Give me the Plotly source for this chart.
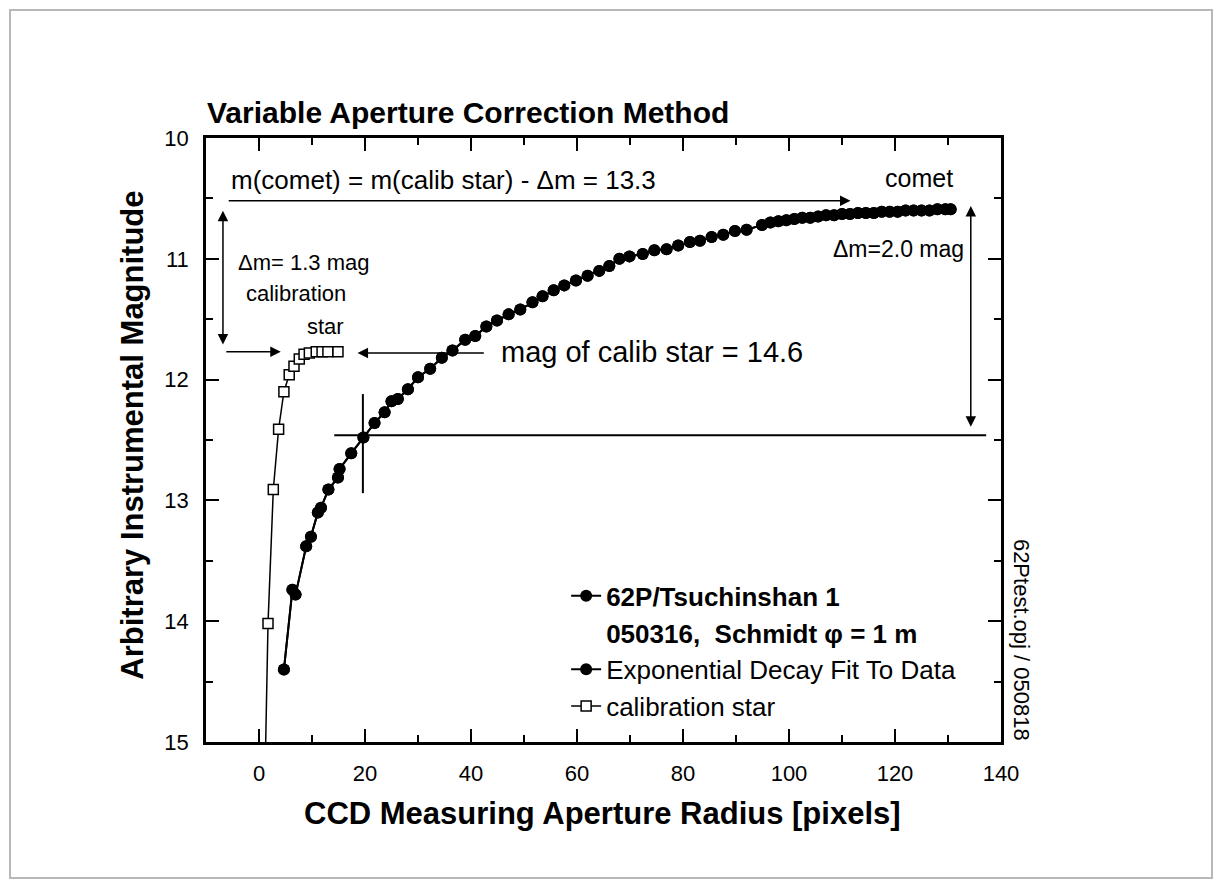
import plotly.graph_objects as go

# ---- data ----
comet_x = [4.7, 6.3, 6.9, 8.9, 9.8, 11.1, 11.7, 13.1, 14.9, 15.2, 17.4, 19.7, 21.8, 23.7,
           25.0, 26.2, 28.1, 30.0, 32.3, 34.5, 36.5, 38.9, 40.8, 42.9, 44.9, 47.1, 49.3,
           51.6, 53.5, 55.6, 57.6, 59.8, 62.0, 64.2, 66.1, 68.0, 69.9, 72.4, 74.6, 76.9,
           79.1, 81.3, 83.2, 85.4, 87.6, 89.8, 92.0, 94.9, 96.5, 98.0, 99.5, 101.0, 102.5,
           104.0, 105.5, 107.0, 108.5, 110.0, 111.5, 113.0, 114.5, 116.0, 117.5, 119.0,
           120.5, 122.0, 123.5, 125.0, 126.5, 128.0, 129.5, 130.5]
comet_mag = [14.40, 13.74, 13.78, 13.38, 13.30, 13.10, 13.06, 12.91, 12.81, 12.74, 12.61,
             12.48, 12.36, 12.27, 12.18, 12.16, 12.08, 11.98, 11.91, 11.82, 11.76, 11.67,
             11.64, 11.56, 11.51, 11.46, 11.42, 11.36, 11.31, 11.26, 11.22, 11.18, 11.14,
             11.10, 11.06, 11.00, 10.98, 10.96, 10.93, 10.92, 10.89, 10.86, 10.85, 10.82,
             10.80, 10.77, 10.76, 10.72, 10.70, 10.69, 10.68, 10.67, 10.66, 10.66, 10.65,
             10.64, 10.64, 10.63, 10.63, 10.62, 10.62, 10.62, 10.61, 10.61, 10.61, 10.60,
             10.60, 10.60, 10.60, 10.59, 10.59, 10.59]
star_x = [1.0, 1.7, 2.7, 3.7, 4.7, 5.7, 6.6, 7.6, 8.5, 9.5, 10.8, 11.9, 13.0, 14.9]
star_mag = [15.6, 14.02, 12.91, 12.41, 12.10, 11.96, 11.89, 11.83, 11.79, 11.78, 11.77,
            11.77, 11.77, 11.77]

x_ticks = [0, 20, 40, 60, 80, 100, 120, 140]
y_ticks = [10, 11, 12, 13, 14, 15]

FONT = "Liberation Sans, Arial, sans-serif"

fig = go.Figure()
fig.add_trace(go.Scatter(x=comet_x, y=comet_mag, mode="lines+markers",
                         name="<b>62P/Tsuchinshan 1</b>", legendrank=1,
                         line=dict(color="black", width=2),
                         marker=dict(symbol="circle", size=12, color="black")))
fig.add_trace(go.Scatter(x=[None], y=[None], mode="markers", legendrank=2,
                         name="<b>050316,&nbsp; Schmidt φ = 1 m</b>",
                         marker=dict(opacity=0, color="white")))
fig.add_trace(go.Scatter(x=comet_x, y=comet_mag, mode="lines+markers",
                         name="Exponential Decay Fit To Data", legendrank=3,
                         line=dict(color="black", width=2),
                         marker=dict(symbol="circle", size=12, color="black")))
fig.add_trace(go.Scatter(x=star_x, y=star_mag, mode="lines+markers",
                         name="calibration star", legendrank=4,
                         line=dict(color="black", width=1.5),
                         marker=dict(symbol="square", size=10, color="white",
                                     line=dict(color="black", width=1.5))))

axis_common = dict(ticks="inside", ticklen=13, tickwidth=2, tickcolor="black",
                   showline=True, linewidth=2.5, linecolor="black", mirror="allticks",
                   showgrid=False, zeroline=False,
                   tickfont=dict(family=FONT, size=22, color="black"))

fig.update_xaxes(range=[-10, 140], tickvals=x_ticks, ticklabelstandoff=10,
                 minor=dict(dtick=10, tick0=0, ticks="inside", ticklen=7, tickwidth=2,
                            tickcolor="black", showgrid=False),
                 **axis_common)
fig.update_yaxes(range=[15, 10], tickvals=y_ticks, ticklabelstandoff=10,
                 minor=dict(dtick=0.5, tick0=10, ticks="inside", ticklen=7, tickwidth=2,
                            tickcolor="black", showgrid=False),
                 **axis_common)

ann = []
def text(x, y, s, size, xanchor="center", yanchor="middle", xref="x", yref="y",
         angle=0, bold=False):
    ann.append(dict(x=x, y=y, xref=xref, yref=yref, text=(f"<b>{s}</b>" if bold else s),
                    showarrow=False, xanchor=xanchor, yanchor=yanchor, textangle=angle,
                    font=dict(family=FONT, size=size, color="black")))

def arrow(x0, y0, x1, y1, both=False):
    ann.append(dict(x=x1, y=y1, ax=x0, ay=y0, xref="x", yref="y", axref="x", ayref="y",
                    text="", showarrow=True, arrowhead=2, arrowsize=1.4, arrowwidth=1.5,
                    arrowcolor="black", arrowside="end+start" if both else "end",
                    standoff=0, startstandoff=0))

text(-0.001, 1.0414, "Variable Aperture Correction Method", 30, xanchor="left",
     xref="paper", yref="paper", bold=True)
text(0.4985, -0.1185, "CCD Measuring Aperture Radius [pixels]", 31, xref="paper",
     yref="paper", bold=True)
text(-0.0925, 0.508, "Arbitrary Instrumental Magnitude", 31, xref="paper", yref="paper",
     angle=-90, bold=True)
text(1.0252, 0.169, "62Ptest.opj / 050818", 22, xref="paper", yref="paper", angle=90)

text(-5.7, 10.35, "m(comet) = m(calib star) - Δm = 13.3", 26, xanchor="left")
text(124.5, 10.33, "comet", 25)
text(-4.4, 11.03, "Δm= 1.3 mag", 22, xanchor="left")
text(6.96, 11.285, "calibration", 22)
text(12.5, 11.56, "star", 22)
text(133.4, 10.92, "Δm=2.0 mag", 23, xanchor="right")
text(45.35, 11.77, "mag of calib star = 14.6", 29, xanchor="left")

arrow(-6.0, 10.52, 111.6, 10.52)
arrow(-6.8, 10.59, -6.8, 11.71, both=True)
arrow(-6.45, 11.77, 4.1, 11.77)
arrow(42.7, 11.78, 18.6, 11.78)
arrow(134.3, 10.55, 134.3, 12.39, both=True)

shapes = [
    dict(type="line", xref="x", yref="y", x0=14.2, x1=137.2, y0=12.46, y1=12.46,
         line=dict(color="black", width=2)),
    dict(type="line", xref="x", yref="y", x0=19.6, x1=19.6, y0=12.12, y1=12.94,
         line=dict(color="black", width=2)),
    dict(type="rect", xref="paper", yref="paper", x0=-0.2465, x1=1.2654, y0=-0.225,
         y1=1.212, line=dict(color="#b8b8b8", width=2), layer="below"),
]

fig.update_layout(
    width=1222, height=886, autosize=False,
    margin=dict(l=206, r=221, t=138, b=144, pad=0),
    paper_bgcolor="white", plot_bgcolor="white",
    font=dict(family=FONT, color="black"),
    annotations=ann, shapes=shapes,
    showlegend=True,
    legend=dict(x=0.453, y=0.281, xanchor="left", yanchor="top",
                bgcolor="rgba(0,0,0,0)", borderwidth=0,
                font=dict(family=FONT, size=26, color="black"),
                traceorder="normal", itemsizing="trace"),
)

fig.write_html("out.html", config={"displayModeBar": False},
               post_script="document.body.style.margin='0';")
